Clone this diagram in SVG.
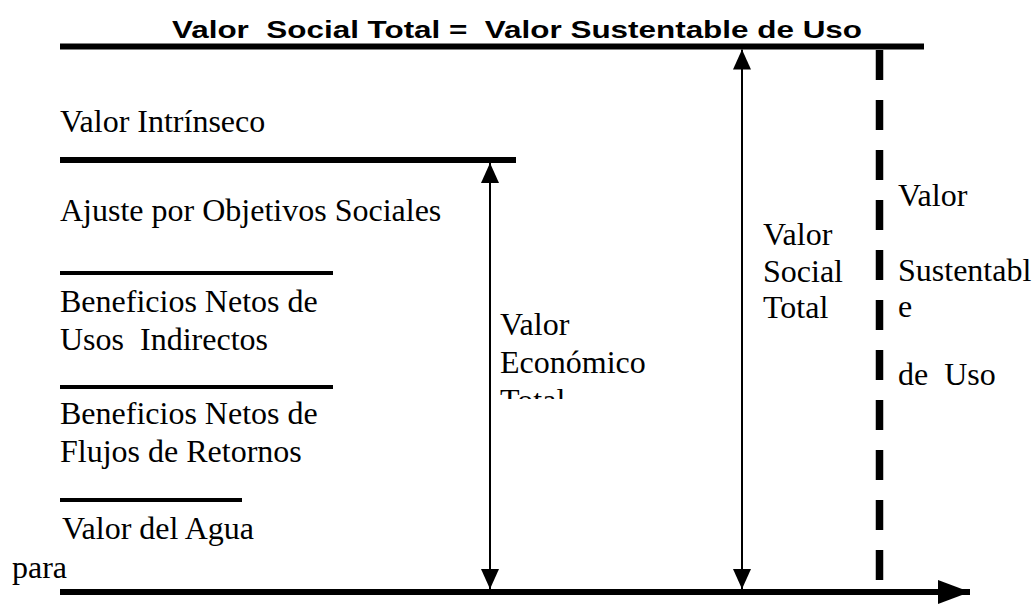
<svg xmlns="http://www.w3.org/2000/svg" width="1033" height="604" viewBox="0 0 1033 604">
<style>
.t{font-family:"Liberation Serif","Times New Roman",serif;font-size:32px;fill:#000}
.h{font-family:"Liberation Sans",Arial,sans-serif;font-size:24px;font-weight:bold;fill:#000}
.thick{stroke:#000;stroke-width:6;fill:none}
.thin{stroke:#000;stroke-width:4;fill:none}
.arr{stroke:#000;stroke-width:2;fill:none}
</style>
<defs>
<marker id="ah" viewBox="0 0 20 18" refX="20" refY="9" markerWidth="20" markerHeight="18" markerUnits="userSpaceOnUse" orient="auto-start-reverse">
<path d="M0,0 L20,9 L0,18 Z" fill="#000"/>
</marker>
<marker id="big" viewBox="0 0 32 24" refX="32" refY="12" markerWidth="32" markerHeight="24" markerUnits="userSpaceOnUse" orient="auto">
<path d="M0,0 L32,12 L0,24 Z" fill="#000"/>
</marker>
<clipPath id="clipE"><rect x="495" y="300" width="160" height="99"/></clipPath>
</defs>
<rect width="1033" height="604" fill="#fff"/>
<g id="title"><text class="h" x="172" y="38" textLength="690" lengthAdjust="spacingAndGlyphs" xml:space="preserve">Valor  Social Total =  Valor Sustentable de Uso</text></g>
<g id="levels">
<line class="thick" x1="60" y1="46.5" x2="924" y2="46.5"/>
<line class="thick" x1="60" y1="160" x2="516" y2="160"/>
<line class="thin" x1="60" y1="273" x2="333" y2="273"/>
<line class="thin" x1="60" y1="387" x2="333" y2="387"/>
<line class="thin" x1="60" y1="500" x2="242" y2="500"/>
</g>
<g id="connectors">
<line class="thick" x1="60" y1="592" x2="970" y2="592" marker-end="url(#big)"/>
<line class="arr" x1="490" y1="163" x2="490" y2="589" marker-start="url(#ah)" marker-end="url(#ah)"/>
<line class="arr" x1="742" y1="49.5" x2="742" y2="589" marker-start="url(#ah)" marker-end="url(#ah)"/>
<line x1="879.5" y1="50" x2="879.5" y2="582" stroke="#000" stroke-width="7.5" stroke-dasharray="30 20"/>
</g>
<g id="left-labels">
<text class="t" x="60" y="132">Valor Intrínseco</text>
<text class="t" x="60" y="221">Ajuste por Objetivos Sociales</text>
<text class="t" x="60" y="312" xml:space="preserve">Beneficios Netos de</text>
<text class="t" x="60" y="350" xml:space="preserve">Usos  Indirectos</text>
<text class="t" x="60" y="424">Beneficios Netos de</text>
<text class="t" x="60" y="462">Flujos de Retornos</text>
<text class="t" x="62" y="539">Valor del Agua</text>
<text class="t" x="12" y="578">para</text>
</g>
<g id="vet-label" clip-path="url(#clipE)">
<text class="t" x="500" y="335">Valor</text>
<text class="t" x="500" y="373">Económico</text>
<text class="t" x="500" y="411">Total</text>
</g>
<g id="vst-label">
<text class="t" x="763" y="245">Valor</text>
<text class="t" x="763" y="282">Social</text>
<text class="t" x="763" y="318">Total</text>
</g>
<g id="vsu-label">
<text class="t" x="898" y="206">Valor</text>
<text class="t" x="898" y="281">Sustentabl</text>
<text class="t" x="898" y="317">e</text>
<text class="t" x="898" y="385" xml:space="preserve">de  Uso</text>
</g>
</svg>
